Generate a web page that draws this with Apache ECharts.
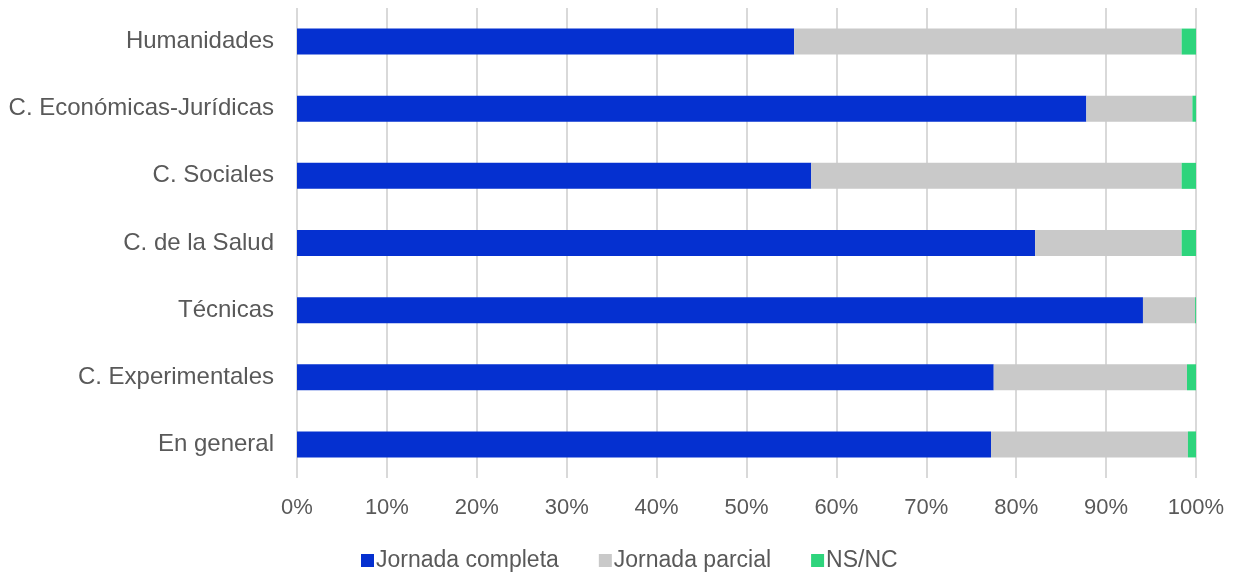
<!DOCTYPE html>
<html>
<head>
<meta charset="utf-8">
<script src="https://cdn.jsdelivr.net/npm/echarts@6/dist/echarts.min.js"></script>
<style>
  html, body { margin: 0; padding: 0; background: #fff; }
  #chart { width: 1234px; height: 573px; }
</style>
</head>
<body>
<div id="chart"></div>
<script>
// Categories (top to bottom) and shares per working-day type, in %
const categories = [
  'Humanidades',
  'C. Económicas-Jurídicas',
  'C. Sociales',
  'C. de la Salud',
  'Técnicas',
  'C. Experimentales',
  'En general'
];
const jornadaCompleta = [55.3, 87.8, 57.2, 82.1, 94.1, 77.5, 77.2];
const jornadaParcial  = [43.1, 11.8, 41.2, 16.3, 5.8, 21.5, 21.9];
const nsnc            = [1.6, 0.4, 1.6, 1.6, 0.1, 1.0, 0.9];
const seriesNames = ['Jornada completa', 'Jornada parcial', 'NS/NC'];
const seriesColors = ['#0530d0', '#c9c9c9', '#2ed47c'];

const font = 'Liberation Sans, Arial, sans-serif';
const chart = echarts.init(document.getElementById('chart'));

const values = [jornadaCompleta, jornadaParcial, nsnc];

chart.setOption({
  animation: false,
  legend: {
    top: 544,
    left: 356,
    itemWidth: 13,
    itemHeight: 13,
    itemGap: 40,
    icon: 'rect',
    textStyle: { fontFamily: font, fontSize: 23, color: '#595959', padding: [0, 0, 0, -3] },
    data: seriesNames
  },
  grid: { left: 297, right: 38, top: 8, bottom: 95, containLabel: false },
  xAxis: {
    type: 'value',
    min: 0,
    max: 100,
    interval: 10,
    axisLabel: { formatter: '{value}%', fontFamily: font, fontSize: 22, color: '#595959', margin: 19 },
    axisLine: { show: false },
    axisTick: { show: false },
    splitLine: { show: true, lineStyle: { color: '#d9d9d9', width: 2 } }
  },
  yAxis: {
    type: 'category',
    inverse: true,
    data: categories,
    axisLabel: { fontFamily: font, fontSize: 24, color: '#595959', margin: 23 },
    axisLine: { show: false },
    axisTick: { show: false }
  },
  series: seriesNames.map((name, i) => ({
    name: name,
    type: 'bar',
    stack: 'total',
    barWidth: 26,
    itemStyle: { color: seriesColors[i] },
    data: values[i]
  }))
});
</script>
</body>
</html>
